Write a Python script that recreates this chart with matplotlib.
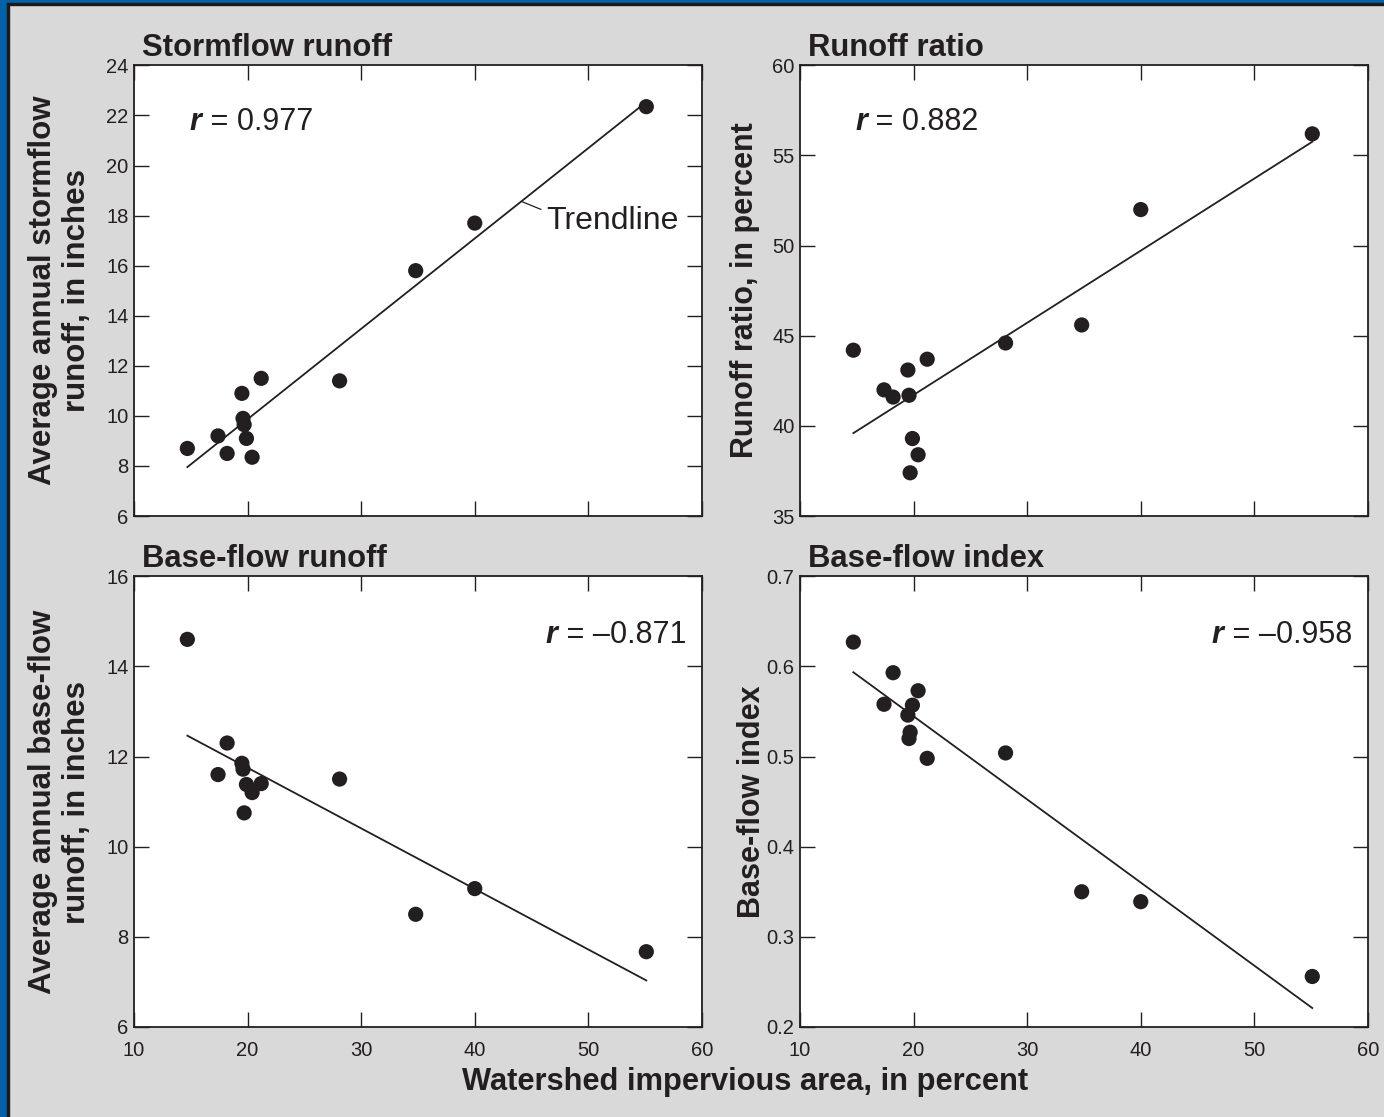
"""Impervious area vs. stormflow / base-flow, four scatter panels with trendlines"""

import numpy as np
import matplotlib.pyplot as plt
from matplotlib.patches import Rectangle

plt.rcParams["font.family"] = ["Liberation Sans", "DejaVu Sans"]

# Watershed impervious area, in percent (one value per watershed)
impervious = [14.7, 17.4, 18.2, 19.5, 19.6, 19.7, 19.9, 20.4, 21.2, 28.1, 34.8, 40.0, 55.1]

# Panel data
stormflow = [8.7, 9.2, 8.5, 10.9, 9.9, 9.65, 9.1, 8.35, 11.5, 11.4, 15.8, 17.7, 22.35]
runoff_ratio = [44.2, 42.0, 41.6, 43.1, 41.7, 37.4, 39.3, 38.4, 43.7, 44.6, 45.6, 52.0, 56.2]
baseflow = [14.6, 11.6, 12.3, 11.85, 11.72, 10.75, 11.38, 11.2, 11.4, 11.5, 8.5, 9.07, 7.67]
baseflow_index = [0.627, 0.558, 0.593, 0.546, 0.52, 0.527, 0.557, 0.573, 0.498, 0.504, 0.35, 0.339, 0.256]

titles = ["Stormflow runoff", "Runoff ratio", "Base-flow runoff", "Base-flow index"]
r_labels = ["0.977", "0.882", "\u20130.871", "\u20130.958"]

BG = "#d9d9d9"
BLUE = "#0061a8"
INK = "#231f20"

fig = plt.figure(figsize=(13.84, 11.17), dpi=100)
fig.patch.set_facecolor(BG)

# Blue frame strips (left and top) with a dark rule inside
fig.patches.append(Rectangle((0, 0), 7 / 1384, 1, transform=fig.transFigure, color=BLUE, zorder=0))
fig.patches.append(Rectangle((0, 1 - 3 / 1117), 1, 3 / 1117, transform=fig.transFigure, color=BLUE, zorder=0))
fig.patches.append(Rectangle((7 / 1384, 0), 2 / 1384, 1 - 3 / 1117, transform=fig.transFigure, color="#1a1a1a", zorder=0))
fig.patches.append(Rectangle((7 / 1384, 1 - 5 / 1117), 1, 2 / 1117, transform=fig.transFigure, color="#1a1a1a", zorder=0))

w, h = 0.4104, 0.4035
ax1 = fig.add_axes([0.0968, 0.5380, w, h])
ax2 = fig.add_axes([0.5780, 0.5380, w, h])
ax3 = fig.add_axes([0.0968, 0.0806, w, h])
ax4 = fig.add_axes([0.5780, 0.0806, w, h])
axes = [ax1, ax2, ax3, ax4]
series = [stormflow, runoff_ratio, baseflow, baseflow_index]
ylims = [(6, 24), (35, 60), (6, 16), (0.2, 0.7)]
ysteps = [2, 5, 2, 0.1]

x = np.array(impervious)
xfit = np.array([x.min(), x.max()])
fits = []
for ax, y, ylim, step, title in zip(axes, series, ylims, ysteps, titles):
    y = np.array(y)
    coef = np.polyfit(x, y, 1)
    fits.append(coef)
    ax.plot(xfit, np.polyval(coef, xfit), color=INK, lw=1.3, zorder=2)
    ax.scatter(x, y, s=120, color=INK, edgecolors="none", zorder=3)
    ax.set_xlim(10, 60)
    ax.set_ylim(*ylim)
    ax.set_xticks(np.arange(10, 61, 10))
    ax.set_yticks(np.arange(ylim[0], ylim[1] + step / 2, step))
    if step < 1:
        ax.set_yticklabels([f"{v:.1f}" for v in ax.get_yticks()])
    ax.tick_params(direction="in", length=11, width=1, color=INK, top=True, right=True,
                   labelsize=14.5, labelcolor=INK, pad=4)
    ax.tick_params(axis="x", pad=10)
    for sp in ax.spines.values():
        sp.set_color(INK)
        sp.set_linewidth(1.3)
    ax.text(0.015, 1.006, title, transform=ax.transAxes, fontsize=22.3, fontweight="bold",
            color=INK, ha="left", va="bottom")

for ax in (ax1, ax2):
    ax.tick_params(labelbottom=False)

# r annotations
for ax, lab, left in zip(axes, r_labels, [True, True, False, False]):
    if left:
        t = ax.text(0.098, 0.875, "r", transform=ax.transAxes, fontsize=22, fontweight="bold",
                    fontstyle="italic", color=INK, ha="left", va="center")
        ax.annotate(" = " + lab, xy=(1, 0), xycoords=t, fontsize=22, color=INK,
                    ha="left", va="bottom")
    else:
        t = ax.text(0.972, 0.87, " = " + lab, transform=ax.transAxes, fontsize=22,
                    color=INK, ha="right", va="center")
        ax.annotate("r", xy=(0, 0), xycoords=t, fontsize=22, fontweight="bold",
                    fontstyle="italic", color=INK, ha="right", va="bottom")

# Trendline callout
x0 = 44.1
ax1.annotate("Trendline", xy=(x0, np.polyval(fits[0], x0)), xytext=(46.3, 17.8),
             fontsize=23, color=INK, va="center", ha="left",
             arrowprops=dict(arrowstyle="-", color=INK, lw=0.9, relpos=(0, 0.8),
                             shrinkA=2, shrinkB=0))

# Axis labels
fig.text(0.0434, 0.740, "Average annual stormflow\nrunoff, in inches", rotation=90,
         fontsize=22.5, fontweight="bold", color=INK, ha="center", va="center", linespacing=1.15)
fig.text(0.538, 0.740, "Runoff ratio, in percent", rotation=90,
         fontsize=22, fontweight="bold", color=INK, ha="center", va="center")
fig.text(0.0434, 0.282, "Average annual base-flow\nrunoff, in inches", rotation=90,
         fontsize=22.5, fontweight="bold", color=INK, ha="center", va="center", linespacing=1.15)
fig.text(0.543, 0.282, "Base-flow index", rotation=90,
         fontsize=22, fontweight="bold", color=INK, ha="center", va="center")
fig.text(0.5387, 0.031, "Watershed impervious area, in percent",
         fontsize=22.2, fontweight="bold", color=INK, ha="center", va="center")

plt.savefig("out.png", dpi=100, facecolor=BG)
